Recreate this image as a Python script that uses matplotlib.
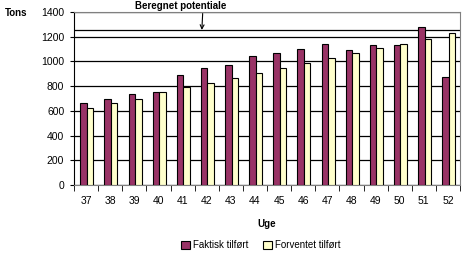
import numpy as np
import matplotlib.pyplot as plt

plt.rcParams['font.family'] = ['Liberation Sans', 'DejaVu Sans']

# Data
weeks = ['37', '38', '39', '40', '41', '42', '43', '44', '45', '46', '47', '48', '49', '50', '51', '52']
faktisk = [660, 700, 740, 750, 890, 950, 975, 1040, 1065, 1100, 1140, 1090, 1130, 1130, 1275, 870]
forventet = [620, 660, 700, 750, 790, 825, 865, 905, 945, 985, 1025, 1065, 1105, 1145, 1185, 1230]
potentiale = 1255

fig = plt.figure(figsize=(4.74, 2.59), dpi=100)
ax = fig.add_axes([74 / 474, 1 - 185 / 259, 386 / 474, 173 / 259])

x = np.arange(len(weeks))
w = 0.27
ax.bar(x - w / 2 + 0.03, faktisk, w, color='#993366', edgecolor='black', linewidth=0.8,
       label='Faktisk tilført', zorder=3)
ax.bar(x + w / 2 + 0.03, forventet, w, color='#FFFFCC', edgecolor='black', linewidth=0.8,
       label='Forventet tilført', zorder=3)

ax.set_ylim(0, 1400)
ax.set_xlim(-0.5, len(weeks) - 0.5)
ax.set_yticks(range(0, 1401, 200))
ax.yaxis.grid(True, color='black', linewidth=0.9, zorder=0)
ax.axhline(potentiale, color='black', linewidth=0.9, zorder=2)

ax.set_xticks(x)
ax.set_xticklabels(weeks, fontsize=7.5)
ax.set_xticks(np.arange(-0.5, len(weeks), 1), minor=True)
ax.tick_params(axis='x', which='major', length=0, pad=8)
ax.tick_params(axis='x', which='minor', length=4, direction='out')
ax.tick_params(axis='y', labelsize=7.5, length=3, direction='out', pad=4)

for s in ['top', 'right', 'bottom']:
    ax.spines[s].set_color('#808080')
ax.spines['left'].set_color('black')

ax.set_xlabel('Uge', fontsize=7, fontweight='bold', labelpad=9)
fig.text(5 / 474, 1 - 13 / 259, 'Tons', fontsize=7, fontweight='bold', va='center')

ax.annotate('Beregnet potentiale', xy=(4.8, potentiale), xytext=(3.93, 1410),
            fontsize=7, fontweight='bold', ha='center', va='bottom',
            arrowprops=dict(arrowstyle='->', color='black', lw=0.8,
                            relpos=(0.74, 0), shrinkA=0, shrinkB=0),
            annotation_clip=False)

fig.legend(loc='lower center', bbox_to_anchor=(0.55, 0.0), ncol=2, frameon=False,
           fontsize=7, handlelength=0.9, handleheight=0.9, columnspacing=1.5,
           handletextpad=0.3)

fig.savefig('out.png', dpi=100)
